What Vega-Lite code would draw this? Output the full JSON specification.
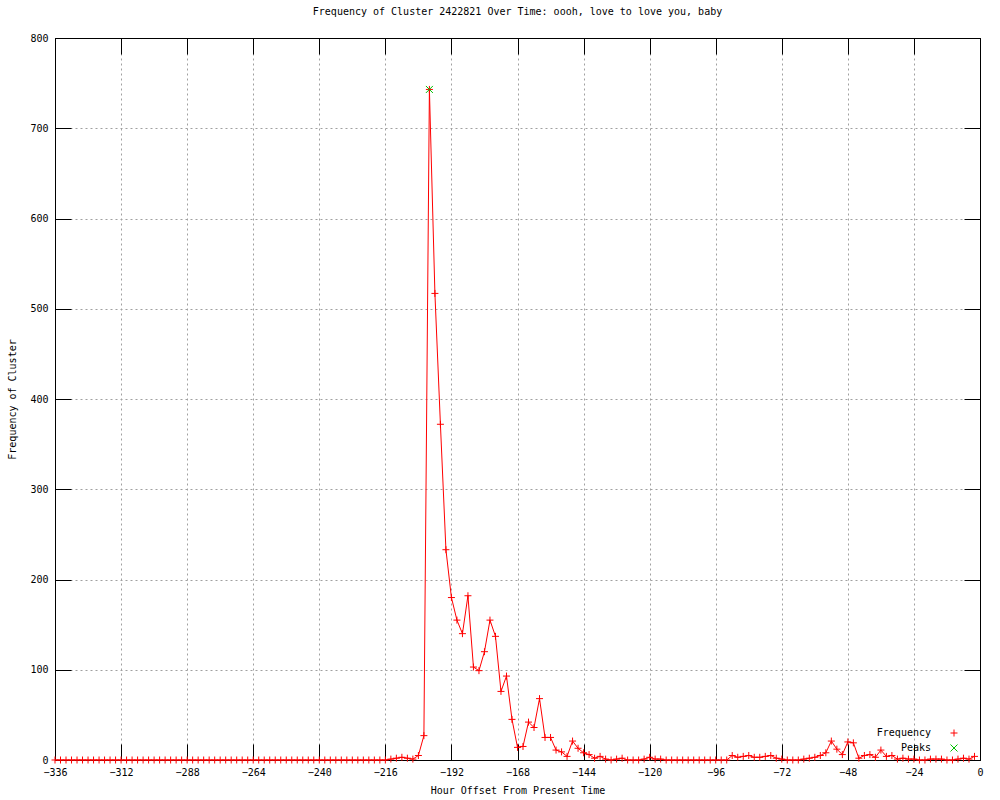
{
  "$schema": "https://vega.github.io/schema/vega-lite/v6.json",
  "width": 925,
  "height": 722,
  "autosize": "none",
  "padding": {"left": 55, "top": 38, "right": 20, "bottom": 40},
  "background": "white",
  "title": {"text": "Frequency of Cluster 2422821 Over Time: oooh, love to love you, baby", "font": "DejaVu Sans Mono", "fontSize": 10, "fontWeight": "normal", "color": "black", "offset": 16},
  "config": {
    "view": {"stroke": "black", "strokeWidth": 1},
    "axis": {"labelFont": "DejaVu Sans Mono", "labelFontSize": 10, "labelColor": "black", "titleFont": "DejaVu Sans Mono", "titleFontSize": 10, "titleFontWeight": "normal", "titleColor": "black", "domain": true, "domainColor": "black", "domainWidth": 1, "tickColor": "black", "tickSize": -16, "gridColor": "#a0a0a0", "gridDash": [2, 3], "gridOpacity": 1, "labelFlush": false, "labelOverlap": false},
    "legend": {"labelFont": "DejaVu Sans Mono", "labelFontSize": 10, "labelColor": "black"}
  },
  "datasets": {
    "freq": [
      {"h": -336, "v": 0}, {"h": -334, "v": 0}, {"h": -332, "v": 0}, {"h": -330, "v": 0}, {"h": -328, "v": 0}, {"h": -326, "v": 0}, {"h": -324, "v": 0}, {"h": -322, "v": 0}, {"h": -320, "v": 0}, {"h": -318, "v": 0}, {"h": -316, "v": 0}, {"h": -314, "v": 0},
      {"h": -312, "v": 0}, {"h": -310, "v": 0}, {"h": -308, "v": 0}, {"h": -306, "v": 0}, {"h": -304, "v": 0}, {"h": -302, "v": 0}, {"h": -300, "v": 0}, {"h": -298, "v": 0}, {"h": -296, "v": 0}, {"h": -294, "v": 0}, {"h": -292, "v": 0}, {"h": -290, "v": 0},
      {"h": -288, "v": 0}, {"h": -286, "v": 0}, {"h": -284, "v": 0}, {"h": -282, "v": 0}, {"h": -280, "v": 0}, {"h": -278, "v": 0}, {"h": -276, "v": 0}, {"h": -274, "v": 0}, {"h": -272, "v": 0}, {"h": -270, "v": 0}, {"h": -268, "v": 0}, {"h": -266, "v": 0},
      {"h": -264, "v": 0}, {"h": -262, "v": 0}, {"h": -260, "v": 0}, {"h": -258, "v": 0}, {"h": -256, "v": 0}, {"h": -254, "v": 0}, {"h": -252, "v": 0}, {"h": -250, "v": 0}, {"h": -248, "v": 0}, {"h": -246, "v": 0}, {"h": -244, "v": 0}, {"h": -242, "v": 0},
      {"h": -240, "v": 0}, {"h": -238, "v": 0}, {"h": -236, "v": 0}, {"h": -234, "v": 0}, {"h": -232, "v": 0}, {"h": -230, "v": 0}, {"h": -228, "v": 0}, {"h": -226, "v": 0}, {"h": -224, "v": 0}, {"h": -222, "v": 0}, {"h": -220, "v": 0}, {"h": -218, "v": 0},
      {"h": -216, "v": 0}, {"h": -214, "v": 1}, {"h": -212, "v": 2}, {"h": -210, "v": 3}, {"h": -208, "v": 2}, {"h": -206, "v": 1}, {"h": -204, "v": 5}, {"h": -202, "v": 27}, {"h": -200, "v": 743}, {"h": -198, "v": 517}, {"h": -196, "v": 372}, {"h": -194, "v": 233},
      {"h": -192, "v": 180}, {"h": -190, "v": 155}, {"h": -188, "v": 140}, {"h": -186, "v": 182}, {"h": -184, "v": 103}, {"h": -182, "v": 99}, {"h": -180, "v": 120}, {"h": -178, "v": 155}, {"h": -176, "v": 137}, {"h": -174, "v": 76}, {"h": -172, "v": 93}, {"h": -170, "v": 45},
      {"h": -168, "v": 14}, {"h": -166, "v": 15}, {"h": -164, "v": 42}, {"h": -162, "v": 36}, {"h": -160, "v": 68}, {"h": -158, "v": 25}, {"h": -156, "v": 25}, {"h": -154, "v": 11}, {"h": -152, "v": 9}, {"h": -150, "v": 4}, {"h": -148, "v": 21}, {"h": -146, "v": 13},
      {"h": -144, "v": 8}, {"h": -142, "v": 6}, {"h": -140, "v": 2}, {"h": -138, "v": 4}, {"h": -136, "v": 1}, {"h": -134, "v": 0}, {"h": -132, "v": 1}, {"h": -130, "v": 2}, {"h": -128, "v": 0}, {"h": -126, "v": 0}, {"h": -124, "v": 0}, {"h": -122, "v": 1},
      {"h": -120, "v": 3}, {"h": -118, "v": 1}, {"h": -116, "v": 1}, {"h": -114, "v": 0}, {"h": -112, "v": 0}, {"h": -110, "v": 0}, {"h": -108, "v": 0}, {"h": -106, "v": 0}, {"h": -104, "v": 0}, {"h": -102, "v": 0}, {"h": -100, "v": 0}, {"h": -98, "v": 0},
      {"h": -96, "v": 0}, {"h": -94, "v": 0}, {"h": -92, "v": 0}, {"h": -90, "v": 5}, {"h": -88, "v": 3}, {"h": -86, "v": 4}, {"h": -84, "v": 5}, {"h": -82, "v": 3}, {"h": -80, "v": 3}, {"h": -78, "v": 4}, {"h": -76, "v": 5}, {"h": -74, "v": 2},
      {"h": -72, "v": 1}, {"h": -70, "v": 0}, {"h": -68, "v": 0}, {"h": -66, "v": 0}, {"h": -64, "v": 1}, {"h": -62, "v": 2}, {"h": -60, "v": 3}, {"h": -58, "v": 5}, {"h": -56, "v": 8}, {"h": -54, "v": 21}, {"h": -52, "v": 12}, {"h": -50, "v": 6},
      {"h": -48, "v": 20}, {"h": -46, "v": 19}, {"h": -44, "v": 2}, {"h": -42, "v": 5}, {"h": -40, "v": 6}, {"h": -38, "v": 3}, {"h": -36, "v": 11}, {"h": -34, "v": 4}, {"h": -32, "v": 5}, {"h": -30, "v": 1}, {"h": -28, "v": 2}, {"h": -26, "v": 1},
      {"h": -24, "v": 1}, {"h": -22, "v": 0}, {"h": -20, "v": 0}, {"h": -18, "v": 1}, {"h": -16, "v": 1}, {"h": -14, "v": 1}, {"h": -12, "v": 0}, {"h": -10, "v": 0}, {"h": -8, "v": 1}, {"h": -6, "v": 2}, {"h": -4, "v": 1}, {"h": -2, "v": 4}
    ],
    "peaks": [{"h": -200, "v": 743}]
  },
  "layer": [
    {
      "data": {"name": "freq"},
      "mark": {"type": "line", "color": "#ff0000", "strokeWidth": 1},
      "encoding": {
        "x": {"field": "h", "type": "quantitative", "scale": {"domain": [-336, 0], "nice": false, "zero": false},
              "axis": {"orient": "bottom", "values": [-336, -312, -288, -264, -240, -216, -192, -168, -144, -120, -96, -72, -48, -24, 0], "format": "d", "grid": true, "labelPadding": 23, "title": "Hour Offset From Present Time", "titlePadding": 8}},
        "y": {"field": "v", "type": "quantitative", "scale": {"domain": [0, 800], "nice": false},
              "axis": {"orient": "left", "values": [0, 100, 200, 300, 400, 500, 600, 700, 800], "format": "d", "grid": true, "labelPadding": 23, "title": "Frequency of Cluster", "titlePadding": 12}}
      }
    },
    {
      "data": {"name": "freq"},
      "mark": {"type": "point", "filled": false, "strokeWidth": 1, "size": 49, "opacity": 1},
      "encoding": {
        "x": {"field": "h", "type": "quantitative", "axis": null},
        "y": {"field": "v", "type": "quantitative", "axis": null},
        "color": {"datum": "Frequency", "type": "nominal", "scale": {"domain": ["Frequency", "Peaks"], "range": ["#ff0000", "#00c000"]}, "legend": {"title": null, "orient": "none", "legendX": 892, "legendY": 688, "symbolStrokeWidth": 1, "symbolSize": 49, "labelFontSize": 10, "labelAlign": "right", "labelOffset": -28, "padding": 2, "rowPadding": 3}},
        "shape": {"datum": "Frequency", "type": "nominal", "scale": {"domain": ["Frequency", "Peaks"], "range": ["M-1,0H1M0,-1V1", "M-1,-1L1,1M-1,1L1,-1"]}}
      }
    },
    {
      "data": {"name": "peaks"},
      "mark": {"type": "point", "filled": false, "strokeWidth": 1, "size": 49, "opacity": 1},
      "encoding": {
        "x": {"field": "h", "type": "quantitative", "axis": {"orient": "top", "values": [-336, -312, -288, -264, -240, -216, -192, -168, -144, -120, -96, -72, -48, -24, 0], "labels": false, "grid": false, "title": null}},
        "y": {"field": "v", "type": "quantitative", "axis": {"orient": "right", "values": [0, 100, 200, 300, 400, 500, 600, 700, 800], "labels": false, "grid": false, "title": null}},
        "color": {"datum": "Peaks", "type": "nominal"},
        "shape": {"datum": "Peaks", "type": "nominal"}
      }
    }
  ],
  "resolve": {"axis": {"x": "independent", "y": "independent"}}
}
